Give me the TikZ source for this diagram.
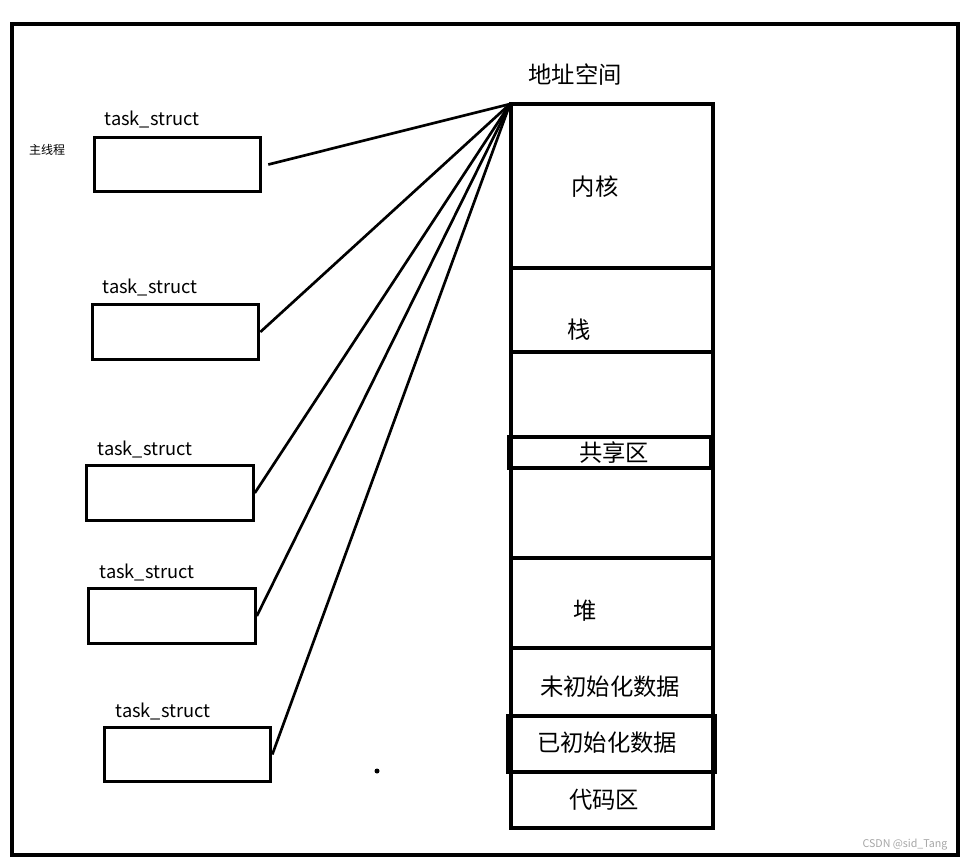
\documentclass[tikz,border=0pt]{standalone}
\usepackage{fontspec}
\setmainfont{Noto Sans CJK SC}
\begin{document}
\begin{tikzpicture}[x=0.75pt,y=-0.75pt,
  box/.style={draw,line width=2.2pt},
  seg/.style={draw,line width=2.4pt},
  lnk/.style={line width=2pt},
  lbl/.style={font=\fontsize{13.7}{15}\selectfont},
  cn/.style={font=\fontsize{17.5}{19}\selectfont}]
\useasboundingbox (0,0) rectangle (973,864);
\draw[line width=2.5pt] (12,24) rectangle (958,855);
% left boxes
\node[box,minimum width=125pt,minimum height=41pt] (t1) at (177.5,164.5) {};
\node[box,minimum width=125pt,minimum height=41pt] (t2) at (175.5,332) {};
\node[box,minimum width=125pt,minimum height=41pt] (t3) at (170,493) {};
\node[box,minimum width=125pt,minimum height=41pt] (t4) at (172,616) {};
\node[box,minimum width=125pt,minimum height=41pt] (t5) at (187.5,754.5) {};
\node[lbl] (l1) at (152,120) {task\_struct};
\node[lbl] (l2) at (150,288) {task\_struct};
\node[lbl] (l3) at (145,449) {task\_struct};
\node[lbl] (l4) at (147,572) {task\_struct};
\node[lbl] (l5) at (163,711) {task\_struct};
\node[font=\fontsize{9}{10}\selectfont] (m) at (47,150) {主线程};
% address space
\coordinate (top) at (510,104);
\draw[seg] (511,104) rectangle (713,828);
\foreach \y in {268,352,558,648,772} \draw[seg] (511,\y) -- (713,\y);
\draw[seg] (509,437) rectangle (711,468);
\draw[line width=2.8pt] (508,716) rectangle (715,772);
\node[cn] (as) at (575,75) {地址空间};
\node[cn] (k) at (595,187) {内核};
\node[cn] (s) at (579,330) {栈};
\node[cn] (sh) at (614,453) {共享区};
\node[cn] (h) at (585,611) {堆};
\node[cn] (u) at (610,687) {未初始化数据};
\node[cn] (i) at (607,743) {已初始化数据};
\node[cn] (c) at (604,800) {代码区};
% links
\draw[lnk] (t1.east)++(6,0) -- (top);
\draw[lnk] (t2.east) -- (top);
\draw[lnk] (t3.east) -- (top);
\draw[lnk] (t4.east) -- (top);
\draw[lnk] (t5.east) -- (top);
\fill (377,771) circle (2.5);
\node[font=\fontsize{8}{9}\selectfont,text=gray!70] (w) at (905,845) {CSDN @sid\_Tang};
\end{tikzpicture}
\end{document}
